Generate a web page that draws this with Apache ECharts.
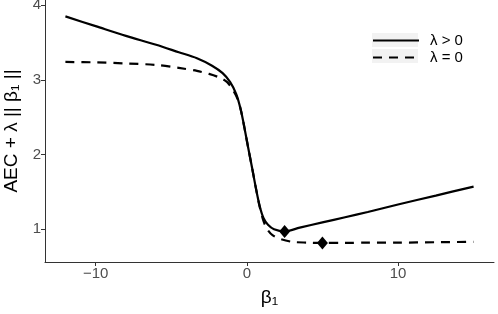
<!DOCTYPE html>
<html>
<head>
<meta charset="utf-8">
<script src="https://cdn.jsdelivr.net/npm/echarts@6/dist/echarts.min.js"></script>
<style>html,body{margin:0;padding:0;background:#fff}#c{width:498px;height:314px}</style>
</head>
<body>
<div id="c"></div>
<script>
// beta_1 values and AEC + lambda||beta_1|| (lambda > 0)
const solidX = [-12, -10, -8, -6, -4.5, -3.3, -2.3, -1.6, -1.1, -0.7, -0.4, -0.15, 0.1, 0.35, 0.6, 0.85, 1.1, 1.4, 1.8, 2.5, 3.5, 5, 6.5, 8, 10, 12.5, 15];
const solidY = [3.85, 3.72, 3.59, 3.47, 3.37, 3.29, 3.19, 3.09, 2.97, 2.81, 2.60, 2.35, 2.08, 1.82, 1.55, 1.31, 1.15, 1.06, 1.00, 0.97, 1.02, 1.09, 1.16, 1.23, 1.33, 1.45, 1.57];
// lambda = 0
const dashX = [-12, -10, -8, -6, -4.5, -3.3, -2.5, -1.8, -1.3, -0.9, -0.6, -0.4, -0.15, 0.1, 0.35, 0.6, 0.85, 1.1, 1.35, 1.7, 2.2, 3, 4, 5, 6.5, 8, 10, 12.5, 15];
const dashY = [3.24, 3.235, 3.22, 3.20, 3.16, 3.12, 3.08, 3.03, 2.97, 2.86, 2.74, 2.60, 2.35, 2.08, 1.82, 1.55, 1.30, 1.11, 1.00, 0.92, 0.87, 0.83, 0.82, 0.815, 0.815, 0.82, 0.82, 0.825, 0.83];
// minima markers
const minSolid = [2.5, 0.97];
const minDash = [5, 0.815];
const xTicks = [-10, 0, 10];
const yTicks = [1, 2, 3, 4];
const seriesNames = ['λ > 0', 'λ = 0'];

const FONT = 'Liberation Sans, Arial, sans-serif';
const chart = echarts.init(document.getElementById('c'), null, {renderer: 'canvas'});
const zip = (a, b) => a.map((v, i) => [v, b[i]]);

chart.setOption({
  animation: false,
  backgroundColor: '#ffffff',
  grid: {left: 45, right: 4, top: 0, bottom: 52, containLabel: false, outerBoundsMode: 'none'},
  xAxis: {
    type: 'value', min: -13.35, max: 16.35,
    name: 'β₁', nameLocation: 'middle', nameGap: 26,
    nameTextStyle: {fontFamily: FONT, fontSize: 19, color: '#000'},
    axisLine: {show: true, onZero: false, lineStyle: {color: '#333', width: 1}},
    axisTick: {show: true, length: 4, lineStyle: {color: '#333'}, customValues: xTicks},
    axisLabel: {customValues: xTicks, fontFamily: FONT, fontSize: 15, color: '#4D4D4D', margin: 4,
      formatter: v => String(v).replace('-', '−')},
    splitLine: {show: false}
  },
  yAxis: {
    type: 'value', min: 0.56, max: 4.07,
    name: 'AEC + λ || β₁ ||', nameLocation: 'middle', nameGap: 22,
    nameTextStyle: {fontFamily: FONT, fontSize: 19, color: '#000'},
    axisLine: {show: true, onZero: false, lineStyle: {color: '#333', width: 1}},
    axisTick: {show: true, length: 4, lineStyle: {color: '#333'}, customValues: yTicks},
    axisLabel: {customValues: yTicks, fontFamily: FONT, fontSize: 15, color: '#4D4D4D', margin: 4},
    splitLine: {show: false}
  },
  legend: {
    left: 372, top: 33, padding: 0, orient: 'vertical', itemWidth: 46, itemHeight: 14, itemGap: 2,
    data: seriesNames,
    itemStyle: {opacity: 0},
    textStyle: {fontFamily: FONT, fontSize: 15, color: '#000', padding: [0, 0, 0, 6]}
  },
  graphic: [
    {type: 'rect', z: 1, shape: {x: 372, y: 33, width: 46, height: 14}, style: {fill: '#F2F2F2'}},
    {type: 'rect', z: 1, shape: {x: 372, y: 49, width: 46, height: 14}, style: {fill: '#F2F2F2'}}
  ],
  series: [
    {name: seriesNames[0], type: 'line', data: zip(solidX, solidY), smooth: 0.3, symbol: 'none',
      lineStyle: {color: '#000', width: 2.2}, itemStyle: {color: '#000'}, z: 3},
    {name: seriesNames[1], type: 'line', data: zip(dashX, dashY), smooth: 0.3, symbol: 'none',
      lineStyle: {color: '#000', width: 2.2, type: [9, 7]}, itemStyle: {color: '#000'}, z: 2},
    {type: 'scatter', data: [minSolid, minDash], symbol: 'diamond', symbolSize: [11, 13],
      itemStyle: {color: '#000', opacity: 1}, z: 4}
  ]
});
</script>
</body>
</html>
